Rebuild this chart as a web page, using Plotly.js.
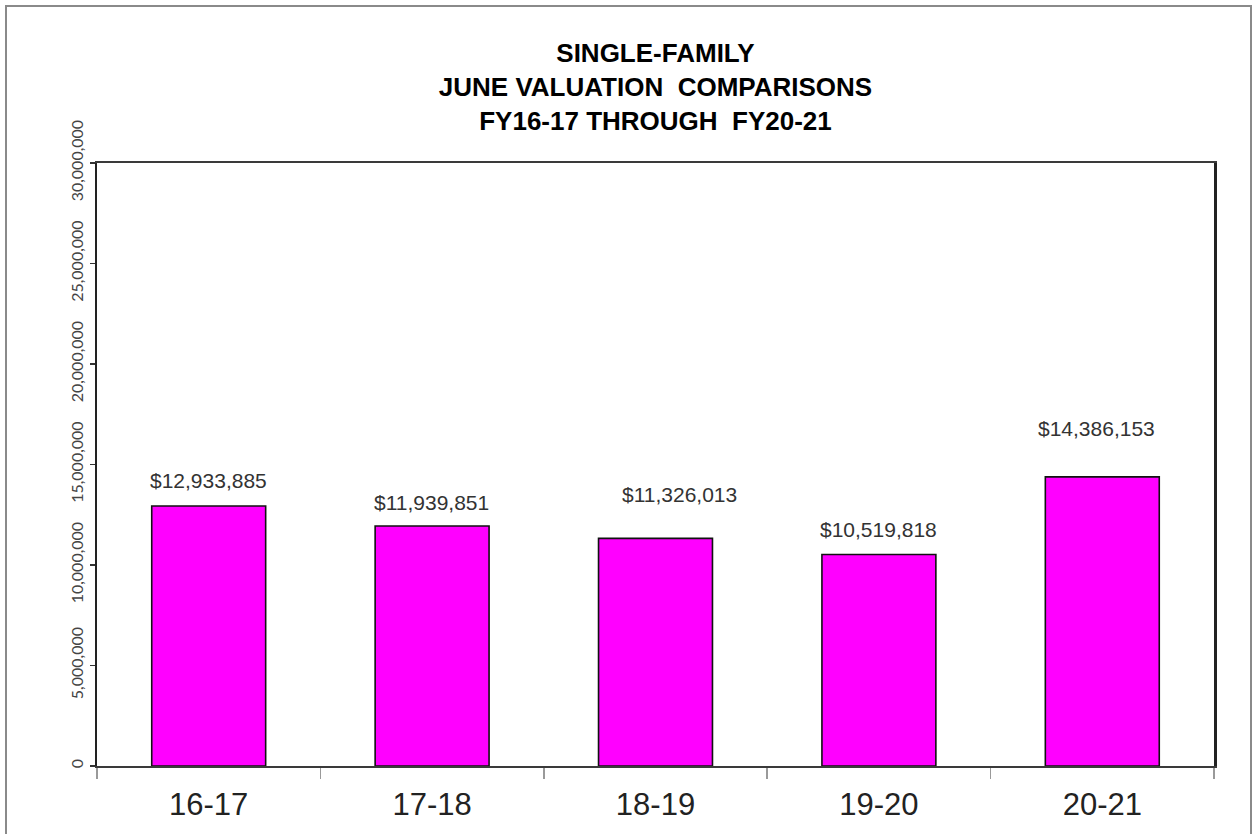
<!DOCTYPE html>
<html>
<head>
<meta charset="utf-8">
<script src="https://cdn.plot.ly/plotly-3.0.1.min.js"></script>
<style>
  html, body { margin: 0; padding: 0; background: #ffffff; }
  #wrap { position: relative; width: 1255px; height: 834px; overflow: hidden; }
  #chart { position: absolute; left: 0; top: 0; width: 1255px; height: 834px; }
  #frame { position: absolute; left: 5px; top: 5px; width: 1247px; height: 840px;
           border: 2px solid #8a8a8a; box-sizing: border-box; pointer-events: none; }
</style>
</head>
<body>
<div id="wrap">
  <div id="chart"></div>
  <div id="frame"></div>
</div>
<script>
// ---- data ----
const categories = ["16-17", "17-18", "18-19", "19-20", "20-21"];
const values = [12933885, 11939851, 11326013, 10519818, 14386153];
const titleLines = ["SINGLE-FAMILY", "JUNE VALUATION  COMPARISONS", "FY16-17 THROUGH  FY20-21"];
const yTickValues = [0, 5000000, 10000000, 15000000, 20000000, 25000000, 30000000];

// ---- label placement (style only, px offsets from bar top centre) ----
const labelYShift = [26, 24, 44, 25, 48];
const labelXShift = [0, -1, 24, 0, -6];

const SANS = '"Liberation Sans", Arial, sans-serif';

const trace = {
  type: 'bar',
  x: categories,
  y: values,
  marker: { color: '#FF00FF', line: { color: '#111111', width: 1.6 } },
  hoverinfo: 'x+y'
};

const annotations = categories.map((c, i) => ({
  x: c,
  y: values[i],
  xref: 'x',
  yref: 'y',
  text: '$' + values[i].toLocaleString('en-US'),
  showarrow: false,
  yanchor: 'middle',
  xanchor: 'center',
  yshift: labelYShift[i],
  xshift: labelXShift[i],
  font: { family: SANS, size: 21, color: '#333333' }
}));

const layout = {
  width: 1255,
  height: 834,
  margin: { l: 97, r: 41, t: 163, b: 68, pad: 0 },
  paper_bgcolor: '#ffffff',
  plot_bgcolor: '#ffffff',
  showlegend: false,
  bargap: 0.49,
  title: {
    text: titleLines.join('<br>'),
    font: { family: SANS, size: 26, color: '#000000', weight: 'bold' },
    x: 0.5,
    xanchor: 'center',
    xref: 'paper',
    yref: 'container',
    y: 1 - 62 / 834,
    yanchor: 'top'
  },
  xaxis: {
    type: 'category',
    tickson: 'boundaries',
    ticks: 'outside',
    ticklen: 11,
    tickwidth: 1.5,
    tickcolor: '#9a9a9a',
    showline: true,
    linecolor: '#3a3a3a',
    linewidth: 2,
    mirror: true,
    showgrid: false,
    zeroline: false,
    tickfont: { family: SANS, size: 31, color: '#222222' },
    ticklabelstandoff: 10,
    fixedrange: true
  },
  yaxis: {
    range: [0, 30000000],
    tickvals: yTickValues,
    ticktext: yTickValues.map(v => v.toLocaleString('en-US')),
    tickangle: -90,
    ticks: 'outside',
    ticklen: 5,
    tickwidth: 1.5,
    tickcolor: '#333333',
    showline: true,
    linecolor: '#222222',
    linewidth: 2.5,
    mirror: true,
    showgrid: false,
    zeroline: false,
    tickfont: { family: 'Lato, "Open Sans", sans-serif', size: 16, color: '#444444' },
    fixedrange: true
  },
  annotations: annotations
};

Plotly.newPlot('chart', [trace], layout, { displayModeBar: false, staticPlot: true });
</script>
</body>
</html>
